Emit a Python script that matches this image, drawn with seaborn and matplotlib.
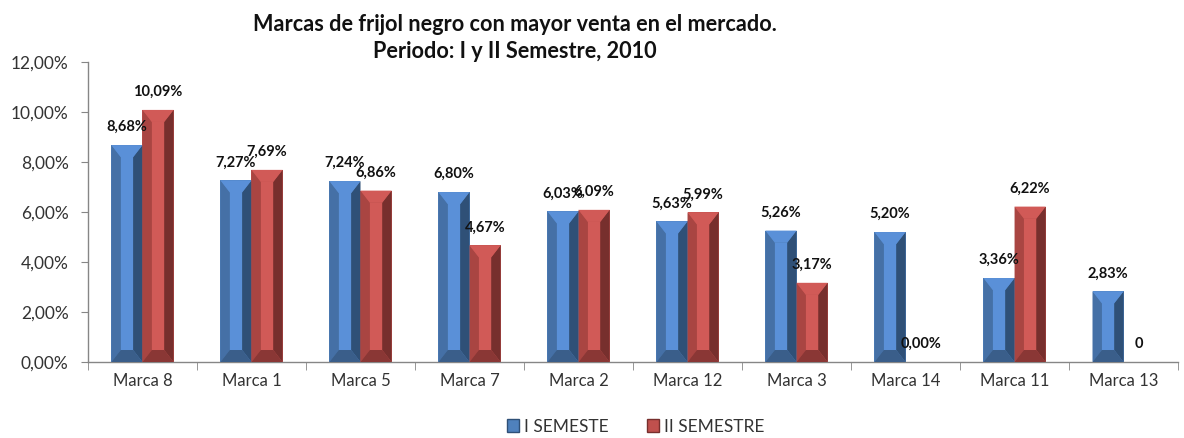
import pandas as pd
import matplotlib
matplotlib.use("Agg")
import matplotlib.pyplot as plt
from matplotlib.patches import Polygon, Patch
from matplotlib.ticker import FuncFormatter, FixedLocator
import seaborn as sns

marcas = ["Marca 8", "Marca 1", "Marca 5", "Marca 7", "Marca 2",
          "Marca 12", "Marca 3", "Marca 14", "Marca 11", "Marca 13"]
sem1 = [8.68, 7.27, 7.24, 6.80, 6.03, 5.63, 5.26, 5.20, 3.36, 2.83]
sem2 = [10.09, 7.69, 6.86, 4.67, 6.09, 5.99, 3.17, 0.00, 6.22, 0.00]
sem1_labels = ["8,68%", "7,27%", "7,24%", "6,80%", "6,03%",
               "5,63%", "5,26%", "5,20%", "3,36%", "2,83%"]
sem2_labels = ["10,09%", "7,69%", "6,86%", "4,67%", "6,09%",
               "5,99%", "3,17%", "0,00%", "6,22%", "0"]
series = ["I SEMESTE", "II SEMESTRE"]

df = pd.DataFrame({"marca": marcas * 2,
                   "semestre": [series[0]] * 10 + [series[1]] * 10,
                   "valor": sem1 + sem2})

# colours for each bevel face
faces = {
    series[0]: dict(base="#4F81BD", light="#5A90D8", left="#4570A6", right="#2F5077", bottom="#3A5E8A"),
    series[1]: dict(base="#C0504D", light="#D15A57", left="#A94542", right="#772F2D", bottom="#8A3735"),
}

sns.set_style("white")
plt.rcParams["font.family"] = ["Lato", "DejaVu Sans"]

fig = plt.figure(figsize=(11.84, 4.38), dpi=100)
ax = fig.add_axes([0.0743, 0.1735, 0.9207, 0.6845])

sns.barplot(data=df, x="marca", y="valor", hue="semestre", hue_order=series,
            palette=[faces[s]["base"] for s in series], width=0.57, gap=0,
            legend=False, ax=ax, saturation=1, linewidth=0)

ax.set_ylim(0, 12)
ax.set_xlim(-0.5, len(marcas) - 0.5)

# bevel overlay built from the drawn bars
px_per_unit = ax.get_window_extent().height / 12.0
e_units = 12 / px_per_unit
for cont, s, labs in zip(ax.containers, series, [sem1_labels, sem2_labels]):
    c = faces[s]
    for bar, lab in zip(cont, labs):
        x0 = bar.get_x()
        w = bar.get_width()
        x1 = x0 + w
        h = bar.get_height()
        if h > 0:
            d = w * 0.3
            e = min(e_units, h / 2)
            polys = [
                ([(x0 + d, e), (x1 - d, e), (x1 - d, h - e), (x0 + d, h - e)], c["light"]),
                ([(x0, 0), (x0, h), (x0 + d, h - e), (x0 + d, e)], c["left"]),
                ([(x1, 0), (x1, h), (x1 - d, h - e), (x1 - d, e)], c["right"]),
                ([(x0, h), (x1, h), (x1 - d, h - e), (x0 + d, h - e)], c["light"]),
                ([(x0, 0), (x1, 0), (x1 - d, e), (x0 + d, e)], c["bottom"]),
            ]
            for pts, col in polys:
                ax.add_patch(Polygon(pts, closed=True, facecolor=col, edgecolor="none", zorder=3))
        ax.annotate(lab, (x0 + w / 2, h), xytext=(0, 18), textcoords="offset pixels",
                    ha="center", va="center", fontsize=10.5, fontweight="bold",
                    color="#111111", zorder=5)

ax.yaxis.set_major_formatter(FuncFormatter(lambda v, p: f"{v:.2f}".replace(".", ",") + "%"))
ax.set_yticks([0, 2, 4, 6, 8, 10, 12])
ax.set_xlabel("")
ax.set_ylabel("")

for side in ["top", "right"]:
    ax.spines[side].set_visible(False)
for side in ["left", "bottom"]:
    ax.spines[side].set_color("#868686")
    ax.spines[side].set_linewidth(1)

ax.tick_params(axis="y", which="major", direction="out", length=5, color="#868686",
               labelsize=12.5, labelcolor="#333333", left=True, pad=9)
ax.tick_params(axis="x", which="major", length=0, labelsize=12, labelcolor="#333333", pad=8)
ax.xaxis.set_minor_locator(FixedLocator([i + 0.5 for i in range(-1, len(marcas))]))
ax.tick_params(axis="x", which="minor", direction="out", length=6, color="#868686", bottom=True)

fig.text(0.435, 0.945, "Marcas de frijol negro con mayor venta en el mercado.",
         ha="center", va="center", fontsize=15.6, fontweight="bold", color="#111111")
fig.text(0.435, 0.882, "Periodo: I y II Semestre, 2010",
         ha="center", va="center", fontsize=15.6, fontweight="bold", color="#111111")

handles = [Patch(facecolor=faces[s]["base"], edgecolor=faces[s]["right"]) for s in series]
fig.legend(handles, series, loc="center", bbox_to_anchor=(0.537, 0.026), ncol=2,
           frameon=False, fontsize=12.5, handlelength=0.7, handleheight=0.7,
           handletextpad=0.3, columnspacing=2.2, labelcolor="#333333",
           borderpad=0.1)

fig.savefig("out.png", dpi=100)
